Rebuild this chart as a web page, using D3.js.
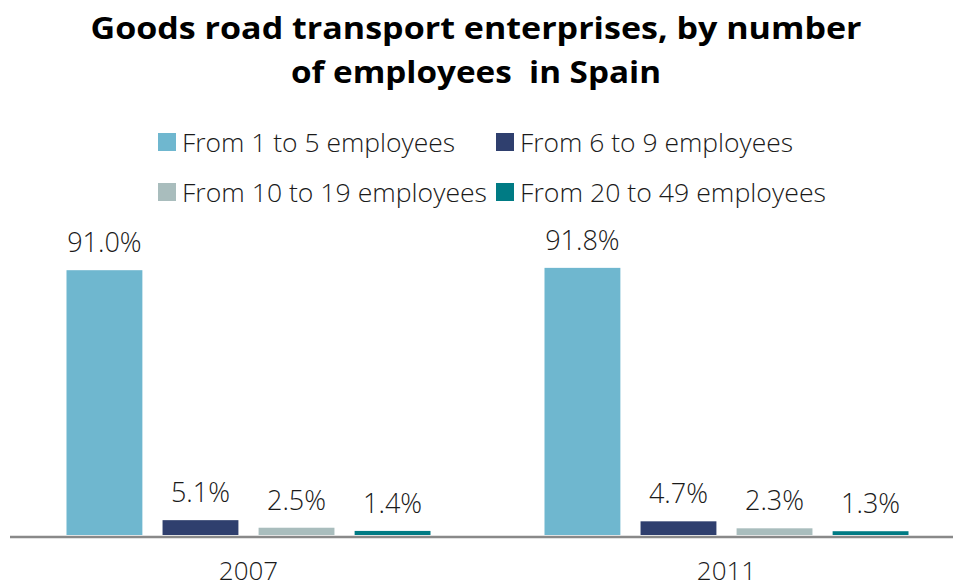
<!DOCTYPE html>
<html>
<head>
<meta charset="utf-8">
<script src="https://cdn.jsdelivr.net/npm/d3@7"></script>
<style>
  html, body { margin: 0; padding: 0; background: #fff; }
  svg { display: block; font-family: "Open Sans", "Noto Sans", sans-serif; }
</style>
</head>
<body>
<svg id="chart" width="953" height="585"></svg>
<script>
// Share of goods road transport enterprises by size class (%)
const years = ["2007", "2011"];
const series = [
  "From 1 to 5 employees",
  "From 6 to 9 employees",
  "From 10 to 19 employees",
  "From 20 to 49 employees"
];
const values2007 = [91.0, 5.1, 2.5, 1.4];
const values2011 = [91.8, 4.7, 2.3, 1.3];
const colors = ["#6FB7CF", "#2F3F6E", "#A9BDBD", "#007B84"];
const titleLines = ["Goods road transport enterprises, by number", "of employees  in Spain"];

const rows = [values2007, values2011].map((vals, i) => ({
  year: years[i],
  items: series.map((s, j) => ({ series: s, value: vals[j] }))
}));

const svg = d3.select("#chart");

// Title
svg.append("g").selectAll("text")
  .data(titleLines)
  .join("text")
  .attr("x", 476)
  .attr("y", (d, i) => 39 + i * 44)
  .attr("text-anchor", "middle")
  .attr("font-size", 31)
  .attr("font-weight", 700)
  .attr("fill", "#000")
  .style("white-space", "pre")
  .attr("textLength", (d, i) => i === 0 ? 771 : 370)
  .attr("lengthAdjust", "spacingAndGlyphs")
  .text(d => d);

// Legend (2 x 2)
const legendPos = [
  { x: 158, y: 133, tx: 182, tw: 273 },
  { x: 496, y: 133, tx: 520, tw: 273 },
  { x: 158, y: 183, tx: 182, tw: 305 },
  { x: 496, y: 183, tx: 520, tw: 306 }
];
const legend = svg.append("g").selectAll("g")
  .data(series)
  .join("g");
legend.append("rect")
  .attr("x", (d, i) => legendPos[i].x)
  .attr("y", (d, i) => legendPos[i].y)
  .attr("width", 18)
  .attr("height", 18)
  .attr("fill", (d, i) => colors[i]);
legend.append("text")
  .attr("x", (d, i) => legendPos[i].tx)
  .attr("y", (d, i) => legendPos[i].y + 19)
  .attr("font-size", 26)
  .attr("font-weight", 300)
  .attr("fill", "#1a1a1a")
  .attr("textLength", (d, i) => legendPos[i].tw)
  .attr("lengthAdjust", "spacingAndGlyphs")
  .text(d => d);

// Scales
const x0 = d3.scaleBand().domain(years).range([9.5, 965.5]).padding(0);
const groupWidth = 364;
const x1 = d3.scaleBand().domain(series).range([0, groupWidth]).paddingInner(0.21).paddingOuter(0);
const y = d3.scaleLinear().domain([0, 100]).range([535, 244]);
const color = d3.scaleOrdinal().domain(series).range(colors);

const groups = svg.append("g").selectAll("g")
  .data(rows)
  .join("g")
  .attr("transform", d => `translate(${x0(d.year) + (x0.bandwidth() - groupWidth) / 2},0)`);

groups.selectAll("rect")
  .data(d => d.items)
  .join("rect")
  .attr("x", d => x1(d.series))
  .attr("y", d => y(d.value))
  .attr("width", x1.bandwidth())
  .attr("height", d => y(0) - y(d.value))
  .attr("fill", d => color(d.series));

groups.selectAll("text")
  .data(d => d.items)
  .join("text")
  .attr("x", d => x1(d.series) + x1.bandwidth() / 2)
  .attr("y", d => y(d.value) - 18)
  .attr("text-anchor", "middle")
  .attr("font-size", 27)
  .attr("font-weight", 300)
  .attr("fill", "#1a1a1a")
  .text(d => d.value.toFixed(1) + "%");

// Category axis
const axis = svg.append("g")
  .attr("transform", "translate(0,536.5)")
  .call(d3.axisBottom(x0).tickSize(0).tickSizeOuter(0));
axis.select(".domain")
  .attr("stroke", "#898989")
  .attr("stroke-width", 2.5);
axis.selectAll(".tick text")
  .attr("y", 43)
  .attr("dy", 0)
  .attr("font-size", 26)
  .attr("font-weight", 300)
  .attr("font-family", "'Open Sans', 'Noto Sans', sans-serif")
  .attr("fill", "#1a1a1a");
</script>
</body>
</html>
